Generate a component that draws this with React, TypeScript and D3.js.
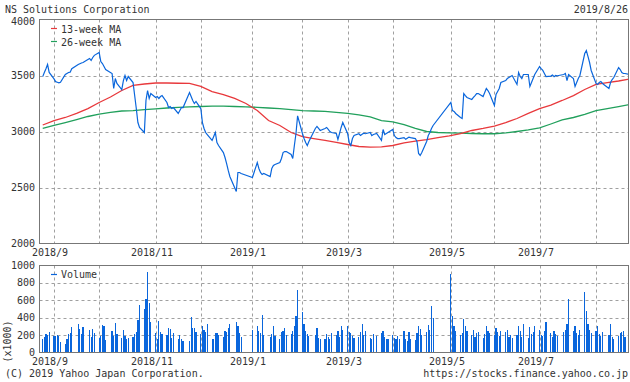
import React from "react";
import * as d3 from "d3";

// ---------- data ----------
const TITLE = "NS Solutions Corporation";
const DATE_LABEL = "2019/8/26";

const HOLIDAYS = [
  "2018-09-17", "2018-09-24", "2018-10-08", "2018-11-23", "2018-12-24", "2018-12-31",
  "2019-01-01", "2019-01-02", "2019-01-03", "2019-01-14", "2019-02-11", "2019-03-21",
  "2019-04-29", "2019-04-30", "2019-05-01", "2019-05-02", "2019-05-03", "2019-05-06",
  "2019-07-15", "2019-08-12",
];
const FIRST_DAY = "2018-08-27";
const LAST_DAY = "2019-08-26";

// daily closes (yen), one per trading day
const CLOSE = [
  3490, 3527, 3560, 3598, 3527,
  3470, 3445, 3440, 3435, 3440,
  3509, 3518, 3527, 3530, 3560,
  3598, 3605, 3612, 3616,
  3652, 3634, 3661, 3680,
  3705, 3625, 3607, 3580, 3553,
  3518, 3384, 3473, 3429,
  3375, 3455, 3500, 3455, 3491,
  3437, 3321, 3205, 3080, 3036,
  2991, 3277, 3366, 3295, 3339,
  3304, 3312, 3295, 3312, 3321,
  3259, 3214, 3223, 3205, 3214,
  3161, 3187, 3214, 3214,
  3348, 3312, 3277, 3250, 3268,
  3205, 3080, 3027, 2991, 2973,
  2920, 2955, 2991, 2902, 2875,
  2812, 2768, 2714, 2652, 2598,
  2464, 2634, 2634, 2625,
  2589,
  2723, 2670, 2634, 2616, 2625,
  2598, 2670, 2696, 2705,
  2723, 2759, 2812, 2821, 2821,
  2795, 2759, 2875, 2982, 3140,
  2982, 2937, 2902, 2875, 2911,
  3027, 3045, 3027, 3009,
  3027, 3036, 3018, 3000, 2991,
  2982, 2929, 2982, 3036, 3080,
  2982, 2902, 2875, 2937, 2964,
  2980, 2965, 2975, 2985, 2980,
  2991, 2964, 2973, 2982,
  2920, 3018, 2973, 2982, 2991,
  3018, 2964, 2946, 2937, 2937,
  2945, 2930, 2940, 2950, 2945,
  2937, 2911, 2804, 2786, 2812,
  2911, 2964, 2991, 3027, 3054,
  3259, 3187, 3179, 3161,
  3125, 3116, 3339, 3321, 3304,
  3286, 3304, 3321, 3339, 3339,
  3312, 3348, 3384, 3366, 3339,
  3232, 3330, 3357, 3384, 3437,
  3455, 3473, 3482, 3491, 3500,
  3420, 3527, 3491, 3473, 3509,
  3509, 3402, 3437, 3473, 3509,
  3580, 3562, 3545, 3518, 3491,
  3495, 3505, 3490, 3500, 3498,
  3509, 3518, 3455, 3509,
  3473, 3402, 3437, 3473, 3500,
  3696, 3723, 3670, 3616, 3545,
  3429, 3420, 3437, 3446, 3429,
  3384, 3437, 3464, 3482,
  3571, 3553, 3527, 3518, 3518,
  3509,
];

// daily volume (x1000 shares)
const VOLUME = [
  150, 180, 210, 200, 240,
  190, 195, 200, 190, 125,
  95, 155, 215, 220, 295,
  330, 265, 215, 295,
  255, 180, 265, 225,
  170, 195, 320, 310, 140,
  250, 190, 340, 215,
  165, 255, 190, 150, 170,
  180, 210, 230, 370, 545,
  500, 615, 920, 570, 350,
  220, 150, 360, 230, 210,
  200, 280, 270, 170, 220,
  155, 200, 160, 130,
  130, 405, 280, 280, 240,
  210, 310, 260, 240, 330,
  155, 150, 220, 225, 200,
  180, 250, 230, 280, 330,
  350, 300, 220, 180,
  260,
  300, 250, 220, 430, 200,
  180, 210, 300, 190,
  160, 230, 250, 280, 200,
  210, 250, 300, 420, 720,
  470, 330, 250, 210, 190,
  200, 280, 170, 150,
  160, 210, 180, 150, 220,
  200, 250, 180, 300, 260,
  300, 230, 220, 190, 170,
  180, 230, 330, 200, 250,
  170, 160, 210, 190,
  220, 250, 180, 160, 150,
  200, 170, 150, 190, 160,
  250, 160, 130, 240, 150,
  140, 220, 300, 270, 200,
  230, 320, 260, 540, 400,
  900, 420, 300, 250,
  200, 220, 380, 300, 250,
  200, 260, 180, 220, 240,
  170, 210, 300, 250, 220,
  200, 280, 230, 190, 250,
  230, 260, 180, 200, 170,
  200, 300, 250, 180, 330,
  170, 290, 210, 230, 300,
  260, 200, 190, 250, 350,
  220, 180, 250, 210, 190,
  230, 260, 330, 620,
  250, 300, 220, 200, 260,
  690, 480, 330, 260, 220,
  250, 300, 210, 190, 230,
  200, 330, 180, 160,
  190, 220, 230, 250, 180,
  170,
];

// weekly moving averages, one per week (week starting Monday 2018-08-27)
const MA13 = [
  3058, 3098, 3125, 3161, 3205, 3259, 3308, 3366, 3411, 3424,
  3433, 3433, 3431, 3429, 3402, 3357, 3330, 3295, 3250, 3187,
  3098, 3054, 2991, 2955, 2937, 2920, 2902, 2884, 2866, 2860,
  2862, 2875, 2898, 2915, 2928, 2946, 2960, 2982, 3009, 3027,
  3049, 3080, 3116, 3161, 3205, 3236, 3277, 3321, 3375, 3420,
  3437, 3451, 3469,
];
const MA26 = [
  3027, 3054, 3080, 3107, 3134, 3156, 3170, 3183, 3187, 3196,
  3202, 3210, 3216, 3220, 3223, 3226, 3226, 3223, 3220, 3216,
  3210, 3205, 3196, 3187, 3183, 3179, 3170, 3161, 3148, 3130,
  3098, 3085, 3062, 3027, 3000, 2991, 2988, 2985, 2982, 2980,
  2980, 2987, 3000, 3014, 3033, 3067, 3103, 3125, 3152, 3187,
  3205, 3223, 3241,
];

const PRICE_TICKS = [2000, 2500, 3000, 3500, 4000];
const VOL_TICKS = [0, 200, 400, 600, 800, 1000];
// first week of each month (grid lines) and labels
const MONTH_GRID = [
  "2018-09-03", "2018-10-01", "2018-11-05", "2018-12-03", "2019-01-04", "2019-02-04",
  "2019-03-04", "2019-04-01", "2019-05-07", "2019-06-03", "2019-07-01", "2019-08-05",
];
const MONTH_LABELS = ["2018/9", "", "2018/11", "", "2019/1", "", "2019/3", "", "2019/5", "", "2019/7", ""];

const LEGEND = ["13-week MA", "26-week MA"];

// ---------- helpers ----------
const parse = d3.utcParse("%Y-%m-%d");
const fmt = d3.utcFormat("%Y-%m-%d");

function tradingDays(): Date[] {
  const hol = new Set(HOLIDAYS);
  const out: Date[] = [];
  const end = parse(LAST_DAY)!;
  for (let d = parse(FIRST_DAY)!; d <= end; d = d3.utcDay.offset(d, 1)) {
    const w = d.getUTCDay();
    if (w === 0 || w === 6) continue;
    if (hol.has(fmt(d))) continue;
    out.push(d);
  }
  return out;
}

const W = 630;
const H = 382;
const LEFT = 39.5;
const RIGHT = 628.5;
const MAIN_TOP = 19.5;
const MAIN_BOT = 243.5;
const VOL_TOP = 265.5;
const VOL_BOT = 352.5;

const FONT = "'DejaVu Sans Mono', 'Liberation Mono', monospace";
const TXT = "#333";
const GRID = "#a0a0a0";
const BORDER = "#777";
const BLUE = "#0a66dc";
const RED = "#e8393c";
const GREEN = "#21a05c";

export default function App() {
  const days = tradingDays();
  const n = Math.min(days.length, CLOSE.length, VOLUME.length);
  const weeks = d3.utcMonday.range(parse(FIRST_DAY)!, d3.utcDay.offset(parse(LAST_DAY)!, 1));

  const x = d3
    .scaleUtc()
    .domain([parse("2018-08-25")!, parse("2019-08-26")!])
    .range([39.5, 629.9]);
  const y = d3.scaleLinear().domain([2000, 4000]).range([MAIN_BOT, MAIN_TOP]);
  const yv = d3.scaleLinear().domain([0, 1000]).range([VOL_BOT, VOL_TOP]);

  const priceLine = d3
    .line<number>()
    .x((_, i) => x(days[i]))
    .y((v) => y(v));
  const maLine = d3
    .line<number>()
    .x((_, i) => x(weeks[i]))
    .y((v) => y(v));

  const gridX = MONTH_GRID.map((s) => Math.round(x(parse(s)!)) + 0.5);

  const closeData = CLOSE.slice(0, n);
  const ma13 = MA13.slice(0, weeks.length);
  const ma26 = MA26.slice(0, weeks.length);

  const textProps = { fontFamily: FONT, fontSize: 10, fill: TXT };

  return (
    <svg width={W} height={H} style={{ position: "absolute", left: 0, top: 0, background: "#fff" }}>
      <defs>
        <clipPath id="clipMain">
          <rect x={LEFT} y={MAIN_TOP} width={RIGHT - LEFT} height={MAIN_BOT - MAIN_TOP} />
        </clipPath>
        <clipPath id="clipVol">
          <rect x={LEFT} y={VOL_TOP} width={RIGHT - LEFT} height={VOL_BOT - VOL_TOP} />
        </clipPath>
      </defs>
      <rect x={0} y={0} width={W} height={H} fill="#fff" />

      {/* title + date */}
      <text x={5} y={13} {...textProps}>{TITLE}</text>
      <text x={628} y={13} textAnchor="end" {...textProps}>{DATE_LABEL}</text>

      {/* ---- main chart grid ---- */}
      {PRICE_TICKS.filter((t) => t > 2000 && t < 4000).map((t) => (
        <line key={"hp" + t} x1={LEFT} x2={RIGHT} y1={Math.round(y(t)) + 0.5} y2={Math.round(y(t)) + 0.5}
          stroke={GRID} strokeDasharray="3,3" />
      ))}
      {gridX.map((gx, i) => (
        <line key={"vp" + i} x1={gx} x2={gx} y1={MAIN_TOP} y2={MAIN_BOT} stroke={GRID} strokeDasharray="3,3" />
      ))}
      {/* ---- volume grid ---- */}
      {VOL_TICKS.filter((t) => t > 0 && t < 1000).map((t) => (
        <line key={"hv" + t} x1={LEFT} x2={RIGHT} y1={Math.round(yv(t)) + 0.5} y2={Math.round(yv(t)) + 0.5}
          stroke={GRID} strokeDasharray="3,3" />
      ))}
      {gridX.map((gx, i) => (
        <line key={"vv" + i} x1={gx} x2={gx} y1={VOL_TOP} y2={VOL_BOT} stroke={GRID} strokeDasharray="3,3" />
      ))}

      {/* ---- series ---- */}
      <g clipPath="url(#clipMain)">
        <path d={maLine(ma26) || ""} fill="none" stroke={GREEN} strokeWidth={1.3} />
        <path d={maLine(ma13) || ""} fill="none" stroke={RED} strokeWidth={1.3} />
        <path d={priceLine(closeData) || ""} fill="none" stroke={BLUE} strokeWidth={1.2} />
      </g>
      <g clipPath="url(#clipVol)">
        {VOLUME.slice(0, n).map((v, i) => (
          <rect key={"b" + i} x={x(days[i]) - 0.6} width={1.2} y={yv(v)} height={yv(0) - yv(v)}
            fill={BLUE} shapeRendering="crispEdges" />
        ))}
      </g>

      {/* borders */}
      <rect x={LEFT} y={MAIN_TOP} width={RIGHT - LEFT} height={MAIN_BOT - MAIN_TOP} fill="none" stroke={BORDER} />
      <rect x={LEFT} y={VOL_TOP} width={RIGHT - LEFT} height={VOL_BOT - VOL_TOP} fill="none" stroke={BORDER} />

      {/* y labels */}
      {PRICE_TICKS.map((t) => (
        <text key={"yl" + t} x={35} y={Math.max(y(t) + 3.5, 25)} textAnchor="end" {...textProps}>{t}</text>
      ))}
      {VOL_TICKS.map((t) => (
        <text key={"yv" + t} x={35} y={yv(t) + 3.5} textAnchor="end" {...textProps}>{t}</text>
      ))}
      <text transform="translate(11,341.5) rotate(-90)" textAnchor="middle" {...textProps}>(x1000)</text>

      {/* x labels */}
      {gridX.map((gx, i) =>
        MONTH_LABELS[i] ? (
          <g key={"xl" + i}>
            <text x={gx - 4.5} y={255.5} textAnchor="middle" {...textProps}>{MONTH_LABELS[i]}</text>
            <text x={gx - 4.5} y={365} textAnchor="middle" {...textProps}>{MONTH_LABELS[i]}</text>
          </g>
        ) : null
      )}

      {/* legends */}
      <line x1={51} x2={57} y1={28.5} y2={28.5} stroke={RED} strokeWidth={1.2} />
      <text x={61} y={32.5} {...textProps}>{LEGEND[0]}</text>
      <line x1={51} x2={57} y1={41.5} y2={41.5} stroke={GREEN} strokeWidth={1.2} />
      <text x={61} y={45.5} {...textProps}>{LEGEND[1]}</text>
      <line x1={51} x2={57} y1={274.5} y2={274.5} stroke={BLUE} strokeWidth={1.2} />
      <text x={61} y={278} {...textProps}>Volume</text>

      {/* footer */}
      <text x={5} y={377} {...textProps}>(C) 2019 Yahoo Japan Corporation.</text>
      <text x={628} y={377} textAnchor="end" {...textProps}>https://stocks.finance.yahoo.co.jp</text>
    </svg>
  );
}
